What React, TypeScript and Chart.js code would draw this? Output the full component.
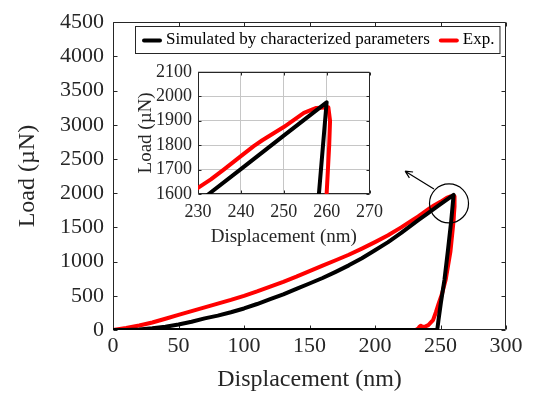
import React, { useEffect, useRef } from "react";
import { Chart, registerables } from "chart.js";

Chart.register(...registerables);

// ---- data (displacement in nm, load in µN) ----
const simDisp = [0, 10, 20, 30, 40, 50, 60, 70, 80, 90, 100, 110, 120, 130, 140, 150, 160, 170, 180, 190, 200, 210, 220, 232.5, 240, 250, 260, 258.2, 255.6, 253, 250.3, 248.5, 247.5, 0];
const simLoad = [0, 1, 8, 25, 48, 80, 120, 170, 210, 260, 315, 380, 450, 520, 600, 680, 760, 850, 945, 1050, 1165, 1285, 1420, 1600, 1702, 1839, 1975, 1600, 1150, 730, 400, 150, 0, 0];

const expDisp = [0, 10, 20, 30, 40, 50, 60, 70, 80, 90, 100, 110, 120, 130, 140, 150, 160, 170, 180, 190, 200, 210, 220, 230, 233, 236, 240, 243, 245, 250, 254.7, 257.6, 260.4, 260.8, 260.6, 260.3, 260.0, 257.6, 254.0, 251.0, 248.5, 246.5, 244.3, 240.7, 238, 236, 235, 234, 233, 231, 0];
const expLoad = [0, 30, 65, 110, 165, 220, 275, 330, 385, 440, 500, 565, 635, 705, 780, 860, 940, 1020, 1100, 1190, 1285, 1385, 1500, 1625, 1660, 1700, 1755, 1796, 1820, 1874, 1932, 1952, 1955, 1900, 1800, 1700, 1600, 1150, 740, 520, 380, 260, 145, 72, 48, 50, 62, 50, 20, 0, 0];

const SIM_LABEL = "Simulated by characterized parameters";
const EXP_LABEL = "Exp.";
const X_TITLE = "Displacement (nm)";
const Y_TITLE = "Load (\u00b5N)";

const mainXTicks = [0, 50, 100, 150, 200, 250, 300];
const mainYTicks = [0, 500, 1000, 1500, 2000, 2500, 3000, 3500, 4000, 4500];
const insetXTicks = [230, 240, 250, 260, 270];
const insetYTicks = [1600, 1700, 1800, 1900, 2000, 2100];

// zoom marker (circle centre in data units) and arrow (data units)
const circleCentre = { x: 256.5, y: 1850 };
const arrowFrom = { x: 245, y: 2060 };
const arrowTo = { x: 223, y: 2322 };

const FONT = "'Liberation Serif', 'Times New Roman', serif";
const TXT = "#262626";
const SIM_COLOR = "#000000";
const EXP_COLOR = "#ff0000";

function pts(xs: number[], ys: number[]) {
  return xs.map((x, i) => ({ x, y: ys[i] }));
}

function framePlugin(tickLen: number) {
  return {
    id: "frame",
    beforeDatasetsDraw(chart: any) {
      const { ctx, chartArea: a, scales } = chart;
      const L = Math.round(a.left) + 0.5;
      const R = Math.round(a.right) - 0.5;
      const T = Math.round(a.top) + 0.5;
      const B = Math.round(a.bottom) - 0.5;
      ctx.save();
      ctx.strokeStyle = TXT;
      ctx.lineWidth = 1;
      ctx.beginPath();
      ctx.rect(L, T, R - L, B - T);
      ctx.stroke();
      ctx.beginPath();
      for (const t of scales.x.ticks) {
        const p = Math.round(scales.x.getPixelForValue(t.value)) + 0.5;
        ctx.moveTo(p, B);
        ctx.lineTo(p, B - tickLen);
        ctx.moveTo(p, T);
        ctx.lineTo(p, T + tickLen);
      }
      for (const t of scales.y.ticks) {
        const p = Math.round(scales.y.getPixelForValue(t.value)) + 0.5;
        ctx.moveTo(L, p);
        ctx.lineTo(L + tickLen, p);
        ctx.moveTo(R, p);
        ctx.lineTo(R - tickLen, p);
      }
      ctx.stroke();
      ctx.restore();
    },
  };
}

const legendPlugin = {
  id: "boxLegend",
  afterDatasetsDraw(chart: any) {
    const { ctx } = chart;
    const ds = chart.data.datasets;
    const left = 135;
    const top = 26;
    const h = 27;
    const cy = top + h / 2 + 1;
    ctx.save();
    ctx.font = `17px ${FONT}`;
    const w0 = ctx.measureText(ds[0].label).width;
    const w1 = ctx.measureText(ds[1].label).width;
    const sample = 20;
    const x0 = left + 7;
    const t0 = x0 + sample + 4;
    const x1 = t0 + w0 + 9;
    const t1 = x1 + sample + 4;
    const right = t1 + w1 + 5;
    ctx.fillStyle = "#ffffff";
    ctx.fillRect(left, top, right - left, h);
    ctx.strokeStyle = TXT;
    ctx.lineWidth = 1;
    ctx.strokeRect(left + 0.5, top + 0.5, right - left, h);
    ctx.lineWidth = 4;
    ctx.lineCap = "round";
    ctx.strokeStyle = ds[0].borderColor;
    ctx.beginPath();
    ctx.moveTo(x0 + 2, cy);
    ctx.lineTo(x0 + sample - 2, cy);
    ctx.stroke();
    ctx.strokeStyle = ds[1].borderColor;
    ctx.beginPath();
    ctx.moveTo(x1 + 2, cy);
    ctx.lineTo(x1 + sample - 2, cy);
    ctx.stroke();
    ctx.fillStyle = "#000";
    ctx.textBaseline = "middle";
    ctx.fillText(ds[0].label, t0, cy - 1);
    ctx.fillText(ds[1].label, t1, cy - 1);
    ctx.restore();
  },
};

const markerPlugin = {
  id: "zoomMarker",
  afterDatasetsDraw(chart: any) {
    const { ctx, scales } = chart;
    const cx = scales.x.getPixelForValue(circleCentre.x);
    const cy = scales.y.getPixelForValue(circleCentre.y);
    ctx.save();
    ctx.strokeStyle = "#000";
    ctx.lineWidth = 1.2;
    ctx.beginPath();
    ctx.arc(cx, cy, 19.5, 0, Math.PI * 2);
    ctx.stroke();
    const ax = scales.x.getPixelForValue(arrowFrom.x);
    const ay = scales.y.getPixelForValue(arrowFrom.y);
    const bx = scales.x.getPixelForValue(arrowTo.x);
    const by = scales.y.getPixelForValue(arrowTo.y);
    ctx.beginPath();
    ctx.moveTo(ax, ay);
    ctx.lineTo(bx, by);
    const ang = Math.atan2(by - ay, bx - ax);
    const hl = 8;
    ctx.moveTo(bx, by);
    ctx.lineTo(bx - hl * Math.cos(ang - 0.45), by - hl * Math.sin(ang - 0.45));
    ctx.moveTo(bx, by);
    ctx.lineTo(bx - hl * Math.cos(ang + 0.45), by - hl * Math.sin(ang + 0.45));
    ctx.stroke();
    ctx.restore();
  },
};

function datasets(clip: any) {
  return [
    {
      label: SIM_LABEL,
      data: pts(simDisp, simLoad),
      borderColor: SIM_COLOR,
      backgroundColor: SIM_COLOR,
      borderWidth: 4,
      pointRadius: 0,
      tension: 0,
      fill: false,
      borderJoinStyle: "round",
      borderCapStyle: "round",
      clip,
    },
    {
      label: EXP_LABEL,
      data: pts(expDisp, expLoad),
      borderColor: EXP_COLOR,
      backgroundColor: EXP_COLOR,
      borderWidth: 4,
      pointRadius: 0,
      tension: 0,
      fill: false,
      borderJoinStyle: "round",
      borderCapStyle: "round",
      clip,
    },
  ];
}

const plainLabel = (v: any) => String(v);

export default function App() {
  const mainRef = useRef<HTMLCanvasElement>(null);
  const insetRef = useRef<HTMLCanvasElement>(null);

  useEffect(() => {
    const main = new Chart(mainRef.current as HTMLCanvasElement, {
      type: "line",
      data: { datasets: datasets(undefined) as any },
      options: {
        responsive: false,
        animation: false,
        layout: { padding: { top: 19, right: 32, left: 0, bottom: 0 } },
        plugins: { legend: { display: false }, tooltip: { enabled: false } },
        scales: {
          x: {
            type: "linear",
            min: mainXTicks[0],
            max: mainXTicks[mainXTicks.length - 1],
            afterBuildTicks: (s: any) => {
              s.ticks = mainXTicks.map((v) => ({ value: v }));
            },
            ticks: { font: { family: FONT, size: 22 }, color: TXT, padding: 3, autoSkip: false, maxRotation: 0, callback: plainLabel },
            grid: { display: false, drawTicks: false },
            border: { display: false },
            title: { display: true, text: X_TITLE, font: { family: FONT, size: 24 }, color: TXT, padding: { top: 0, bottom: 9 } },
            afterFit: (s: any) => {
              s.height = 73;
            },
          },
          y: {
            type: "linear",
            min: mainYTicks[0],
            max: mainYTicks[mainYTicks.length - 1],
            afterBuildTicks: (s: any) => {
              s.ticks = mainYTicks.map((v) => ({ value: v }));
            },
            ticks: { font: { family: FONT, size: 22 }, color: TXT, padding: 9, autoSkip: false, callback: plainLabel },
            grid: { display: false, drawTicks: false },
            border: { display: false },
            title: { display: true, text: Y_TITLE, font: { family: FONT, size: 24 }, color: TXT, padding: { top: 13, bottom: 0 } },
            afterFit: (s: any) => {
              s.width = 113;
            },
          },
        },
      } as any,
      plugins: [framePlugin(4), markerPlugin, legendPlugin],
    });

    const inset = new Chart(insetRef.current as HTMLCanvasElement, {
      type: "line",
      data: { datasets: datasets(0) as any },
      options: {
        responsive: false,
        animation: false,
        layout: { padding: { top: 13, right: 9, left: 0, bottom: 0 } },
        plugins: { legend: { display: false }, tooltip: { enabled: false } },
        scales: {
          x: {
            type: "linear",
            min: insetXTicks[0],
            max: insetXTicks[insetXTicks.length - 1],
            afterBuildTicks: (s: any) => {
              s.ticks = insetXTicks.map((v) => ({ value: v }));
            },
            ticks: { font: { family: FONT, size: 18 }, color: TXT, padding: 7, autoSkip: false, maxRotation: 0, callback: plainLabel },
            grid: { display: true, drawTicks: false, color: "#c6c6c6", lineWidth: 1 },
            border: { display: false },
            title: { display: true, text: X_TITLE, font: { family: FONT, size: 19 }, color: TXT, padding: { top: 0, bottom: 2 } },
            afterFit: (s: any) => {
              s.height = 56;
            },
          },
          y: {
            type: "linear",
            min: insetYTicks[0],
            max: insetYTicks[insetYTicks.length - 1],
            afterBuildTicks: (s: any) => {
              s.ticks = insetYTicks.map((v) => ({ value: v }));
            },
            ticks: { font: { family: FONT, size: 18 }, color: TXT, padding: 6, autoSkip: false, callback: plainLabel },
            grid: { display: true, drawTicks: false, color: "#c6c6c6", lineWidth: 1 },
            border: { display: false },
            title: { display: true, text: Y_TITLE, font: { family: FONT, size: 19 }, color: TXT, padding: { top: 5, bottom: 0 } },
            afterFit: (s: any) => {
              s.width = 68;
            },
          },
        },
      } as any,
      plugins: [framePlugin(3)],
    });

    return () => {
      main.destroy();
      inset.destroy();
    };
  }, []);

  return (
    <div style={{ position: "fixed", left: 0, top: 0, width: 538, height: 403, background: "#ffffff" }}>
      <canvas ref={mainRef} width={538} height={403} style={{ position: "absolute", left: 0, top: 0, width: 538, height: 403 }} />
      <canvas ref={insetRef} width={260} height={195} style={{ position: "absolute", left: 130, top: 55, width: 260, height: 195 }} />
    </div>
  );
}
